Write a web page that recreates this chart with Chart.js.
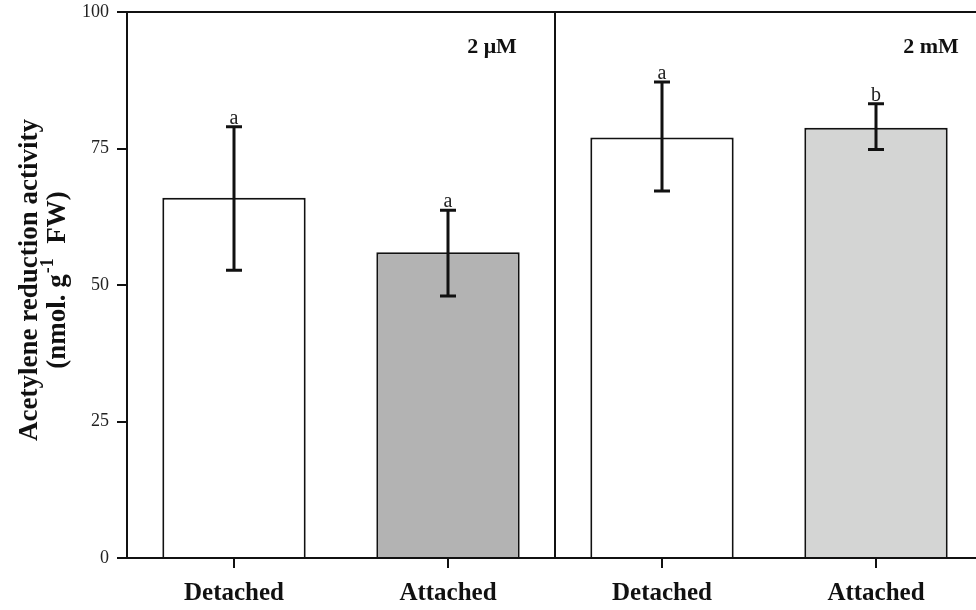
<!DOCTYPE html>
<html>
<head>
<meta charset="utf-8">
<script src="https://cdn.jsdelivr.net/npm/chart.js@4"></script>
<style>
  html, body { margin: 0; padding: 0; background: #fff; overflow: hidden; }
  #wrap { width: 990px; height: 610px; }
</style>
</head>
<body>
<div id="wrap"><canvas id="arChart" width="990" height="610"></canvas></div>
<script>
// データ
const categories = ['Detached', 'Attached', 'Detached', 'Attached'];
const activity = [66, 56, 77, 78.8];
const errLow = [52.7, 48, 67.2, 74.8];
const errHigh = [79, 63.7, 87.2, 83.2];
const letters = ['a', 'a', 'a', 'b'];
const panels = ['2 μM', '2 mM'];
const yTicks = [0, 25, 50, 75, 100];

const barColors = ['#ffffff', '#b3b3b3', '#ffffff', '#d4d5d4'];
const serif = '"Liberation Serif", "Times New Roman", serif';

// 誤差棒・区切り線・文字
const extras = {
  id: 'extras',
  afterDatasetsDraw(chart) {
    const ctx = chart.ctx;
    const area = chart.chartArea;
    const xs = chart.scales.x;
    const ys = chart.scales.y;
    const meta = chart.getDatasetMeta(0);

    ctx.save();
    ctx.strokeStyle = '#111';
    ctx.lineWidth = 2;
    // 上の枠線
    ctx.beginPath();
    ctx.moveTo(area.left, area.top);
    ctx.lineTo(area.right + 10, area.top);
    ctx.stroke();
    // 区切り線
    const divX = (xs.getPixelForValue(1) + xs.getPixelForValue(2)) / 2;
    ctx.beginPath();
    ctx.moveTo(divX, area.top);
    ctx.lineTo(divX, area.bottom);
    ctx.stroke();

    // 誤差棒
    ctx.lineWidth = 3;
    meta.data.forEach((bar, i) => {
      const x = bar.x;
      const yh = ys.getPixelForValue(errHigh[i]);
      const yl = ys.getPixelForValue(errLow[i]);
      ctx.beginPath();
      ctx.moveTo(x, yh); ctx.lineTo(x, yl);
      ctx.moveTo(x - 8, yh); ctx.lineTo(x + 8, yh);
      ctx.moveTo(x - 8, yl); ctx.lineTo(x + 8, yl);
      ctx.stroke();
      ctx.fillStyle = '#222';
      ctx.font = '20px ' + serif;
      ctx.textAlign = 'center';
      ctx.textBaseline = 'alphabetic';
      ctx.fillText(letters[i], x, yh - 3);
    });

    // パネル名
    ctx.fillStyle = '#111';
    ctx.font = 'bold 22px ' + serif;
    ctx.textAlign = 'center';
    ctx.textBaseline = 'middle';
    ctx.fillText(panels[0], divX - 63, area.top + 35);
    ctx.fillText(panels[1], area.right - 52, area.top + 35);

    // 縦軸タイトル
    const cy = (area.top + area.bottom) / 2 - 5;
    ctx.translate(30, cy);
    ctx.rotate(-Math.PI / 2);
    ctx.font = 'bold 27px ' + serif;
    ctx.fillText('Acetylene reduction activity', 0, 0);
    ctx.translate(0, 28);
    const big = 'bold 27px ' + serif;
    const small = 'bold 18px ' + serif;
    const p1 = '(nmol. g', p2 = '-1', p3 = '  FW)';
    ctx.font = big; const w1 = ctx.measureText(p1).width, w3 = ctx.measureText(p3).width;
    ctx.font = small; const w2 = ctx.measureText(p2).width + 2;
    let x0 = -(w1 + w2 + w3) / 2;
    ctx.textAlign = 'left';
    ctx.font = big; ctx.fillText(p1, x0, 0);
    ctx.font = small; ctx.fillText(p2, x0 + w1 + 1, -10);
    ctx.font = big; ctx.fillText(p3, x0 + w1 + w2, 0);
    ctx.restore();
  }
};

new Chart(document.getElementById('arChart'), {
  type: 'bar',
  data: {
    labels: categories,
    datasets: [{
      data: activity,
      backgroundColor: barColors,
      borderColor: '#111',
      borderWidth: 2,
      barPercentage: 0.67,
      categoryPercentage: 1
    }]
  },
  options: {
    responsive: false,
    animation: false,
    layout: { padding: { top: 12, right: 7, left: 0, bottom: 0 } },
    plugins: { legend: { display: false }, tooltip: { enabled: false } },
    scales: {
      x: {
        afterFit: (s) => { s.height = 52; s.paddingLeft = 0; s.paddingRight = 0; },
        grid: { display: true, drawOnChartArea: false, drawTicks: true, tickLength: 10, offset: false, color: '#111', lineWidth: 2 },
        border: { display: true, color: '#111', width: 2 },
        ticks: { color: '#111', padding: 11, font: { family: serif, size: 25, weight: 'bold' } }
      },
      y: {
        min: 0,
        max: 100,
        afterFit: (s) => { s.width = 127; s.paddingTop = 0; s.paddingBottom = 0; },
        afterBuildTicks: (s) => { s.ticks = yTicks.map(v => ({ value: v })); },
        grid: { display: true, drawOnChartArea: false, drawTicks: true, tickLength: 10, color: '#111', lineWidth: 2 },
        border: { display: true, color: '#111', width: 2 },
        ticks: { color: '#222', padding: 8, font: { family: serif, size: 18 } }
      }
    }
  },
  plugins: [extras]
});
</script>
</body>
</html>
